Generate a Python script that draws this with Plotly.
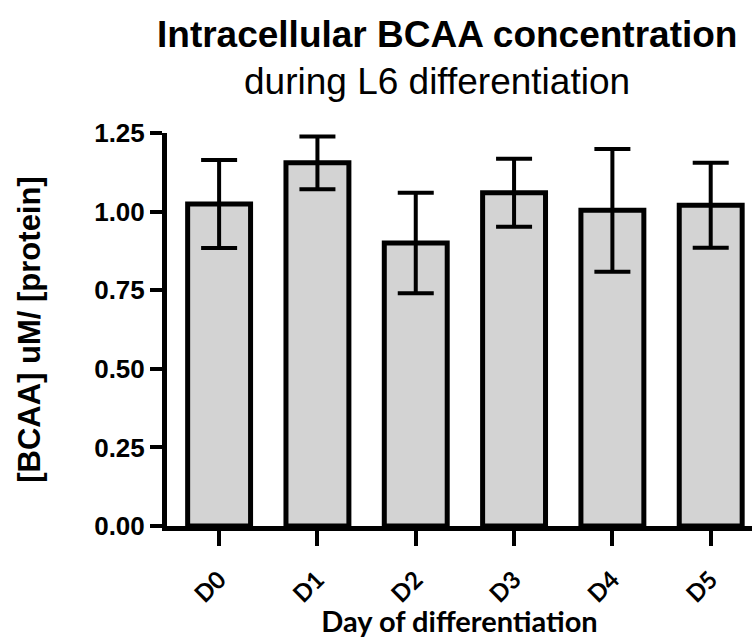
import plotly.graph_objects as go

days = ["D0", "D1", "D2", "D3", "D4", "D5"]
means = [1.024, 1.155, 0.900, 1.060, 1.004, 1.020]
errors = [0.140, 0.084, 0.160, 0.108, 0.195, 0.135]
y_ticks = [0.00, 0.25, 0.50, 0.75, 1.00, 1.25]

title_text = "Intracellular BCAA concentration"
subtitle_text = "during L6 differentiation"

fig = go.Figure()
fig.add_trace(go.Bar(
    x=days, y=means, width=0.64,
    marker=dict(color="#d3d3d3", line=dict(color="black", width=5)),
    error_y=dict(type="data", array=errors, visible=True,
                 color="black", thickness=4, width=18),
))

fig.add_annotation(
    text="<b>" + title_text + "</b>", xref="paper", yref="paper",
    x=(447 - 167) / (752 - 167), xanchor="center",
    y=1 + (133 - 35) / 391, yanchor="middle", showarrow=False,
    font=dict(family="Liberation Sans, Arial", size=37, color="black"),
)
fig.add_annotation(
    text=subtitle_text, xref="paper", yref="paper",
    x=(437 - 167) / (752 - 167), xanchor="center",
    y=1 + (133 - 82) / 391, yanchor="middle", showarrow=False,
    font=dict(family="Liberation Sans, Arial", size=37, color="black"),
)

fig.update_layout(
    width=752, height=638,
    margin=dict(l=167, r=0, t=133, b=112),
    paper_bgcolor="white", plot_bgcolor="white",
    showlegend=False,
    xaxis=dict(
        range=[-0.53, 5.42],
        showline=True, linecolor="black", linewidth=5,
        ticks="outside", ticklen=15, tickwidth=4, tickcolor="black",
        tickangle=-45, ticklabelstandoff=10,
        tickfont=dict(family="Lato, Carlito, Calibri, sans-serif", size=24, color="black", weight="bold"),
        title=dict(text="<b>Day of differentiation</b>", standoff=6,
                   font=dict(family="Lato, Carlito, Calibri, sans-serif", size=29, color="black")),
        showgrid=False, zeroline=False,
    ),
    yaxis=dict(
        range=[0, 1.25],
        tickvals=y_ticks, tickformat=".2f",
        showline=True, linecolor="black", linewidth=5,
        ticks="outside", ticklen=12, tickwidth=4, tickcolor="black",
        tickfont=dict(family="Liberation Sans, Arial", size=26, color="black", weight="bold"),
        title=dict(text="<b>[BCAA] uM/ [protein]</b>", standoff=46,
                   font=dict(family="Liberation Sans, Arial", size=31, color="black")),
        showgrid=False, zeroline=False,
    ),
)

fig.write_html("out.html")
